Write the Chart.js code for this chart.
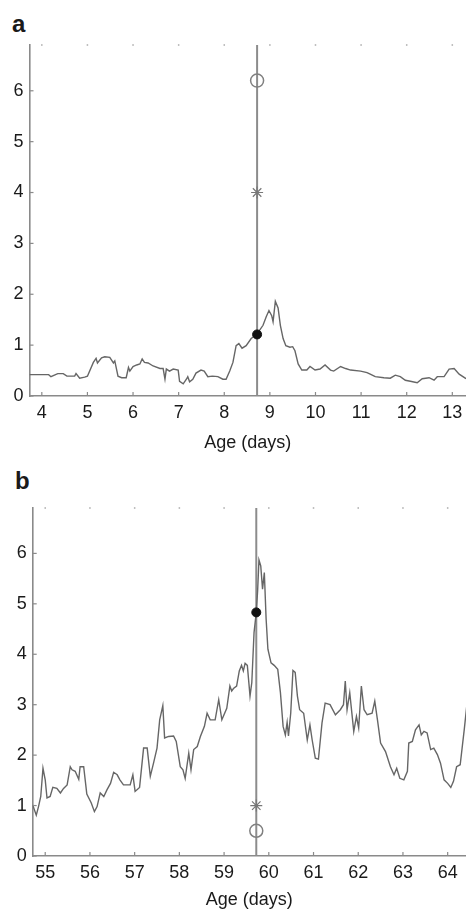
<!DOCTYPE html>
<html>
<head>
<meta charset="utf-8">
<script src="https://cdn.jsdelivr.net/npm/chart.js@4.4.1/dist/chart.umd.min.js"></script>
<style>
    html, body { margin: 0; padding: 0; background: #fff; overflow: hidden; }
    body { width: 466px; height: 909px; position: relative; font-family: "Liberation Sans", Arial, sans-serif; }
    .panel-label { position: absolute; font-weight: bold; font-size: 24px; color: #1a1a1a; line-height: 1; }
    canvas { position: absolute; left: 0; }
</style>
</head>
<body>
<div class="panel-label" style="left:12px;top:12px">a</div>
<canvas id="chartA" width="466" height="460" style="top:0"></canvas>
<div class="panel-label" style="left:15px;top:469px">b</div>
<canvas id="chartB" width="466" height="449" style="top:460px"></canvas>
<script>
// tick labels
var yTicks = [0, 1, 2, 3, 4, 5, 6];
var xTicksA = [4, 5, 6, 7, 8, 9, 10, 11, 12, 13];
var xTicksB = [55, 56, 57, 58, 59, 60, 61, 62, 63, 64];

// panel a trace
var ageA = [3.73, 4.15, 4.2, 4.35, 4.47, 4.55, 4.72, 4.75, 4.83, 4.94, 5.0, 5.13, 5.19, 5.22, 5.31, 5.38, 5.49, 5.57, 5.6, 5.67,
    5.75, 5.85, 5.9, 5.93, 6.0, 6.08, 6.15, 6.2, 6.25, 6.33, 6.44, 6.59, 6.66, 6.7, 6.73, 6.8, 6.88, 6.99, 7.02, 7.1,
    7.17, 7.2, 7.24, 7.31, 7.38, 7.49, 7.56, 7.64, 7.74, 7.86, 7.97, 8.04, 8.12, 8.19, 8.26, 8.32, 8.39, 8.48, 8.59, 8.71,
    8.85, 8.92, 8.98, 9.04, 9.07, 9.12, 9.18, 9.23, 9.29, 9.35, 9.44, 9.5, 9.55, 9.62, 9.7, 9.81, 9.88, 9.99, 10.1, 10.21,
    10.33, 10.4, 10.55, 10.66, 10.77, 10.99, 11.13, 11.2, 11.31, 11.5, 11.64, 11.75, 11.86, 11.97, 12.08, 12.23, 12.34, 12.49, 12.6, 12.67,
    12.82, 12.93, 13.04, 13.15, 13.3];
var valueA = [0.42, 0.42, 0.38, 0.44, 0.44, 0.39, 0.39, 0.44, 0.35, 0.37, 0.39, 0.66, 0.74, 0.65, 0.75, 0.77, 0.76, 0.65, 0.69, 0.39,
    0.36, 0.36, 0.56, 0.49, 0.58, 0.61, 0.63, 0.73, 0.66, 0.65, 0.59, 0.54, 0.54, 0.33, 0.53, 0.49, 0.53, 0.51, 0.29, 0.24,
    0.33, 0.38, 0.28, 0.33, 0.45, 0.51, 0.49, 0.38, 0.39, 0.38, 0.33, 0.33, 0.49, 0.66, 0.99, 1.03, 0.94, 0.99, 1.13, 1.21,
    1.39, 1.56, 1.68, 1.58, 1.46, 1.86, 1.73, 1.39, 1.13, 0.99, 0.96, 0.97, 0.89, 0.63, 0.51, 0.51, 0.58, 0.51, 0.53, 0.61,
    0.51, 0.49, 0.58, 0.54, 0.51, 0.49, 0.46, 0.43, 0.38, 0.36, 0.35, 0.41, 0.38, 0.31, 0.29, 0.26, 0.34, 0.36, 0.31, 0.38,
    0.38, 0.53, 0.54, 0.43, 0.34];

// panel b trace
var ageB = [54.72, 54.8, 54.85, 54.9, 54.95, 55.0, 55.04, 55.11, 55.17, 55.26, 55.34, 55.41, 55.49, 55.56, 55.6, 55.67, 55.75, 55.78, 55.86, 55.93,
    56.03, 56.1, 56.16, 56.23, 56.31, 56.38, 56.46, 56.53, 56.61, 56.67, 56.75, 56.9, 56.96, 57.01, 57.11, 57.2, 57.28, 57.35, 57.43, 57.5,
    57.56, 57.63, 57.67, 57.76, 57.87, 57.93, 58.02, 58.08, 58.13, 58.21, 58.26, 58.32, 58.4, 58.47, 58.56, 58.62, 58.69, 58.8, 58.88, 58.95,
    59.06, 59.13, 59.17, 59.21, 59.28, 59.34, 59.39, 59.43, 59.47, 59.52, 59.58, 59.62, 59.67, 59.72, 59.75, 59.78, 59.82, 59.86, 59.9, 59.94,
    59.98, 60.05, 60.12, 60.2, 60.26, 60.32, 60.37, 60.41, 60.44, 60.49, 60.54, 60.59, 60.64, 60.69, 60.78, 60.86, 60.92, 60.97, 61.04, 61.11,
    61.19, 61.26, 61.37, 61.49, 61.6, 61.67, 61.71, 61.75, 61.81, 61.9, 61.96, 62.01, 62.07, 62.13, 62.2, 62.31, 62.37, 62.43, 62.5, 62.61,
    62.72, 62.8, 62.86, 62.93, 63.02, 63.1, 63.13, 63.21, 63.28, 63.36, 63.41, 63.47, 63.54, 63.62, 63.69, 63.77, 63.84, 63.92, 64.0, 64.07,
    64.13, 64.2, 64.28, 64.37, 64.43];
var valueB = [1.01, 0.81, 0.98, 1.18, 1.74, 1.51, 1.15, 1.18, 1.36, 1.34, 1.25, 1.34, 1.41, 1.77, 1.71, 1.68, 1.52, 1.77, 1.77, 1.23,
    1.05, 0.88, 0.98, 1.25, 1.18, 1.31, 1.44, 1.66, 1.61, 1.51, 1.41, 1.41, 1.61, 1.28, 1.36, 2.14, 2.14, 1.58, 1.87, 2.14,
    2.70, 2.98, 2.34, 2.37, 2.38, 2.27, 1.77, 1.71, 1.54, 2.04, 1.71, 2.11, 2.17, 2.37, 2.57, 2.83, 2.70, 2.70, 3.10, 2.70,
    2.93, 3.37, 3.27, 3.32, 3.37, 3.67, 3.78, 3.67, 3.82, 3.78, 3.17, 3.44, 4.43, 4.83, 5.26, 5.87, 5.75, 5.29, 5.62, 4.70,
    4.10, 3.83, 3.78, 3.70, 3.24, 2.57, 2.40, 2.65, 2.38, 2.83, 3.68, 3.64, 3.17, 2.90, 2.83, 2.30, 2.60, 2.30, 1.94, 1.92,
    2.64, 3.03, 3.00, 2.80, 2.90, 3.00, 3.47, 2.90, 3.24, 2.47, 2.77, 2.54, 3.37, 2.90, 2.80, 2.83, 3.07, 2.70, 2.24, 2.07,
    1.77, 1.61, 1.74, 1.54, 1.51, 1.68, 2.24, 2.27, 2.50, 2.60, 2.40, 2.47, 2.44, 2.11, 2.14, 2.01, 1.84, 1.51, 1.44, 1.36,
    1.48, 1.77, 1.81, 2.50, 3.00];

// event line and markers: age, open circle, asterisk, filled dot
var eventA = { age: 8.72, circle: 6.2, star: 4.0, dot: 1.21 };
var eventB = { age: 59.72, circle: 0.5, star: 1.0, dot: 4.83 };

var yMax = 6.9;
var textColor = '#1a1a1a';
var axisColor = '#8a8a8a';

// inward tick marks and the little dots along the top edge
var innerTicks = {
    id: 'innerTicks',
    afterDatasetsDraw: function(chart, args, opts) {
        var ctx = chart.ctx;
        var x = chart.scales.x, y = chart.scales.y;
        var area = chart.chartArea;
        ctx.save();
        ctx.strokeStyle = axisColor;
        ctx.lineWidth = 1.2;
        opts.xTicks.forEach(function(v) {
            var px = x.getPixelForValue(v);
            ctx.beginPath();
            ctx.moveTo(px, area.bottom);
            ctx.lineTo(px, area.bottom - 4);
            ctx.stroke();
            ctx.fillStyle = '#aaa';
            ctx.fillRect(px - 0.75, area.top - 0.75, 1.5, 1.5);
        });
        yTicks.forEach(function(v) {
            var py = y.getPixelForValue(v);
            ctx.beginPath();
            ctx.moveTo(area.left, py);
            ctx.lineTo(area.left + 4, py);
            ctx.stroke();
        });
        ctx.restore();
    }
};

function toPoints(xs, ys) {
    return xs.map(function(v, i) { return { x: v, y: ys[i] }; });
}

function makePanel(id, ages, values, ev, xTicks, xMin, xMax, yWidth, topPad, xHeight, titlePad) {
    var ctx = document.getElementById(id).getContext('2d');
    return new Chart(ctx, {
        type: 'line',
        data: {
            datasets: [{
                data: [{ x: ev.age, y: ev.dot }],
                showLine: false,
                pointStyle: 'circle',
                pointRadius: 4.5,
                backgroundColor: '#111',
                borderColor: '#111',
                order: 0
            }, {
                data: [{ x: ev.age, y: ev.star }],
                showLine: false,
                pointStyle: 'star',
                pointRadius: 6,
                borderColor: '#777',
                borderWidth: 1.2,
                backgroundColor: 'rgba(0,0,0,0)',
                order: 1
            }, {
                data: [{ x: ev.age, y: ev.circle }],
                showLine: false,
                pointStyle: 'circle',
                pointRadius: 6.5,
                borderColor: '#808080',
                borderWidth: 1.5,
                backgroundColor: 'rgba(0,0,0,0)',
                order: 2
            }, {
                data: toPoints(ages, values),
                borderColor: '#666',
                borderWidth: 1.4,
                pointRadius: 0,
                tension: 0,
                order: 3
            }, {
                data: [{ x: ev.age, y: 0 }, { x: ev.age, y: yMax }],
                borderColor: '#8c8c8c',
                borderWidth: 2,
                pointRadius: 0,
                order: 4
            }]
        },
        options: {
            responsive: false,
            animation: false,
            layout: { autoPadding: false, padding: { top: topPad, left: 0, right: 0, bottom: 0 } },
            plugins: {
                legend: { display: false },
                tooltip: { enabled: false },
                innerTicks: { xTicks: xTicks }
            },
            scales: {
                x: {
                    type: 'linear',
                    min: xMin,
                    max: xMax,
                    grid: { display: false, drawTicks: false },
                    border: { display: true, color: axisColor, width: 1.6 },
                    afterBuildTicks: function(scale) {
                        scale.ticks = xTicks.map(function(v) { return { value: v }; });
                    },
                    afterFit: function(scale) {
                        scale.height = xHeight;
                        scale.paddingLeft = 0;
                        scale.paddingRight = 0;
                    },
                    ticks: {
                        padding: 6,
                        color: textColor,
                        maxRotation: 0,
                        font: { family: '"Liberation Sans", Arial, sans-serif', size: 18 }
                    },
                    title: {
                        display: true,
                        text: 'Age (days)',
                        color: textColor,
                        padding: { top: 0, bottom: titlePad },
                        font: { family: '"Liberation Sans", Arial, sans-serif', size: 18, lineHeight: 1 }
                    }
                },
                y: {
                    min: 0,
                    max: yMax,
                    grid: { display: false, drawTicks: false },
                    border: { display: true, color: axisColor, width: 1.6 },
                    afterBuildTicks: function(scale) {
                        scale.ticks = yTicks.map(function(v) { return { value: v }; });
                    },
                    afterFit: function(scale) {
                        scale.width = yWidth;
                        scale.paddingTop = 0;
                        scale.paddingBottom = 0;
                    },
                    ticks: {
                        padding: 6,
                        color: textColor,
                        font: { family: '"Liberation Sans", Arial, sans-serif', size: 18 }
                    }
                }
            }
        },
        plugins: [innerTicks]
    });
}

makePanel('chartA', ageA, valueA, eventA, xTicksA, 3.73, 13.3, 29.5, 45, 64, 8);
makePanel('chartB', ageB, valueB, eventB, xTicksB, 54.72, 64.41, 32.7, 48, 53, 0);
</script>
</body>
</html>
